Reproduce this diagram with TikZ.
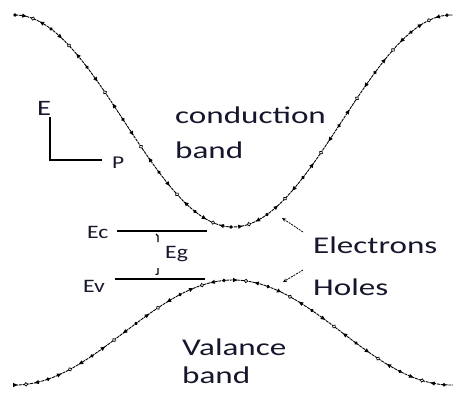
\documentclass[tikz,border=0pt]{standalone}
\usepackage{fontspec}
\usepackage{graphicx}
\setmainfont{Carlito}
\usetikzlibrary{arrows.meta}
\definecolor{tc}{RGB}{22,22,45}
\newcommand{\wide}[2]{\scalebox{#1}[1]{#2}}
\newcommand{\bandmark}[1]{%
  \ifcase#1 \fill (0,0) circle (1.9pt);%
  \or \fill (2.6pt,0pt) -- (-1.8pt,2.1pt) -- (-1.8pt,-2.1pt) -- cycle;%
  \or \draw[line width=0.7pt,fill=white] (0,0) circle (1.7pt);%
  \or \fill (-2.6pt,0pt) -- (1.8pt,2.1pt) -- (1.8pt,-2.1pt) -- cycle;%
  \fi}
\tikzset{
  big/.style={font=\fontsize{24}{24}\selectfont, text=tc, inner sep=0pt, anchor=base west},
  small/.style={font=\fontsize{19}{19}\selectfont, text=tc, inner sep=0pt, anchor=base west},
  bandline/.style={line width=0.9pt, dash pattern=on 3pt off 0.8pt},
  level/.style={line width=1.1pt},
  pointer/.style={line width=0.8pt, dash pattern=on 2pt off 1pt, -{Stealth[length=4pt,width=3.5pt]}}
}
\begin{document}
\begin{tikzpicture}[x=1pt,y=-1pt]
\useasboundingbox (0,0) rectangle (453,392);
% bands
\draw[bandline] plot[domain=15:453, samples=120, smooth] (\x, {121-106*cos((\x-15)/218*180)});
\draw[bandline] plot[domain=15:453, samples=120, smooth] (\x, {332.5+52.5*cos((\x-15)/218*180)});
\foreach \k in {0,...,48} {
  \pgfmathsetmacro\xx{15+9*\k}
  \pgfmathsetmacro\yy{121-106*cos((\xx-15)/218*180)}
  \pgfmathsetmacro\aa{-atan(106*sin((\xx-15)/218*180)*3.14159/218)}
  \pgfmathtruncatemacro\mm{mod(\k,4)}
  \begin{scope}[shift={(\xx,\yy)}, rotate=\aa]
    \bandmark{\mm}
  \end{scope}
}
\foreach \k in {0,...,40} {
  \pgfmathsetmacro\xx{15+11*\k}
  \pgfmathsetmacro\yy{332.5+52.5*cos((\xx-15)/218*180)}
  \pgfmathsetmacro\aa{atan(52.5*sin((\xx-15)/218*180)*3.14159/218)}
  \pgfmathtruncatemacro\mm{mod(\k+1,4)}
  \begin{scope}[shift={(\xx,\yy)}, rotate=\aa]
    \bandmark{\mm}
  \end{scope}
}
% axes
\coordinate (ax0) at (50,117);
\coordinate (axO) at (50,160);
\coordinate (ax1) at (102,160);
\draw[line width=1.1pt] (ax0) -- (axO) -- (ax1);
\node[font=\fontsize{22}{22}\selectfont, text=tc, inner sep=0pt, anchor=base west] (E) at (37,115) {\wide{1.3}{E}};
\node[font=\fontsize{18}{18}\selectfont, text=tc, inner sep=0pt, anchor=base west] (P) at (112,168) {\wide{1.3}{P}};
% labels
\node[big] (cond) at (175,123) {\wide{1.38}{conduction}};
\node[big] (cband) at (175,158) {\wide{1.38}{band}};
\node[big] (el) at (313,253) {\wide{1.38}{Electrons}};
\node[big] (ho) at (313,295) {\wide{1.38}{Holes}};
\node[big] (val) at (182,355) {\wide{1.38}{Valance}};
\node[big] (vband) at (182,383) {\wide{1.38}{band}};
% levels
\node[small] (Ec) at (87,238) {\wide{1.25}{Ec}};
\node[small] (Ev) at (83,292) {\wide{1.25}{Ev}};
\node[small] (Eg) at (165,258) {\wide{1.25}{Eg}};
\coordinate (ec0) at (117,231); \coordinate (ec1) at (207,231);
\coordinate (ev0) at (115,279); \coordinate (ev1) at (205,279);
\draw[level] (ec0) -- (ec1);
\draw[level] (ev0) -- (ev1);
\draw[line width=1.1pt] (156,234) -- (158,236) -- (158,242);
\draw[line width=1.1pt] (158,268) -- (158,274) -- (155.5,274.5);
% pointers
\coordinate (elp) at (303,232); \coordinate (elt) at (282,218);
\coordinate (hop) at (303,270); \coordinate (hot) at (283,282);
\draw[pointer] (elp) -- (elt);
\draw[pointer] (hop) -- (hot);
\end{tikzpicture}
\end{document}
